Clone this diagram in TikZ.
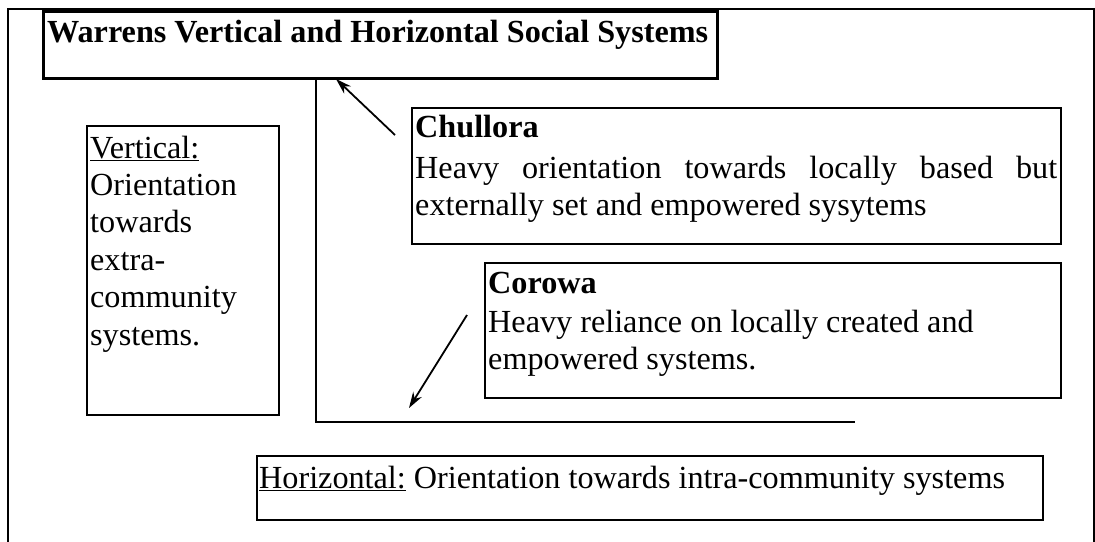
\documentclass[tikz,border=0pt]{standalone}
\usepackage{fontspec}
\setmainfont{Liberation Serif}
\usetikzlibrary{arrows.meta,calc}
\newcommand\mybody{\fontsize{32.2}{37.4}\selectfont}
\begin{document}
\begin{tikzpicture}[x=1pt,y=-1pt,
  box/.style={draw, line width=2pt, inner sep=0pt, anchor=north west},
  txt/.style={anchor=base west, inner sep=0pt, font=\mybody},
  conn/.style={line width=2.2pt},
  arr/.style={line width=1.8pt, -{Stealth[length=16pt,width=10pt]}}]
\useasboundingbox (0,0) rectangle (1095,541);
% outer frame
\node[box, minimum width=1086pt, minimum height=620pt] (frame) at (7,8) {};
% boxes
\node[box, line width=2.6pt, minimum width=674pt, minimum height=67pt] (title) at (42,10) {};
\node[box, minimum width=192pt, minimum height=289pt] (vert) at (86,125) {};
\node[box, minimum width=649pt, minimum height=136pt] (chul) at (411,107) {};
\node[box, minimum width=576pt, minimum height=135pt] (coro) at (484,262) {};
\node[box, minimum width=786pt, minimum height=64pt] (horiz) at (256,455) {};
% texts
\node[txt, font=\mybody\bfseries] (titletext) at (47,42) {Warrens Vertical and Horizontal Social Systems};
\node[txt] (verttext) at (90,158) {\parbox[t]{185pt}{\raggedright\underline{Vertical:}\\Orientation\\towards\\extra-\\community\\systems.}};
\node[txt, font=\mybody\bfseries] (chulhead) at (415,137) {Chullora};
\node[txt] (chultext) at (415,178) {\parbox[t]{642pt}{Heavy orientation towards locally based but\linebreak externally set and empowered sysytems}};
\node[txt, font=\mybody\bfseries] (corohead) at (488,293) {Corowa};
\node[txt] (corotext) at (488,332) {\parbox[t]{570pt}{\raggedright Heavy reliance on locally created and\\empowered systems.}};
\node[txt] (horiztext) at (259,488) {\underline{Horizontal:} Orientation towards intra-community systems};
% axes lines
\coordinate (vtop) at (316,77);
\coordinate (corner) at (316,422);
\coordinate (hend) at (855,422);
\draw[conn] (vtop) -- (corner) -- (hend);
% arrows
\coordinate (a1s) at ($(chul.north west)+(-16,28)$);
\coordinate (a1e) at (336,79);
\draw[arr] (a1s) -- (a1e);
\coordinate (a2s) at ($(coro.north west)+(-17,53)$);
\coordinate (a2e) at (409,408);
\draw[arr] (a2s) -- (a2e);
\end{tikzpicture}
\end{document}
